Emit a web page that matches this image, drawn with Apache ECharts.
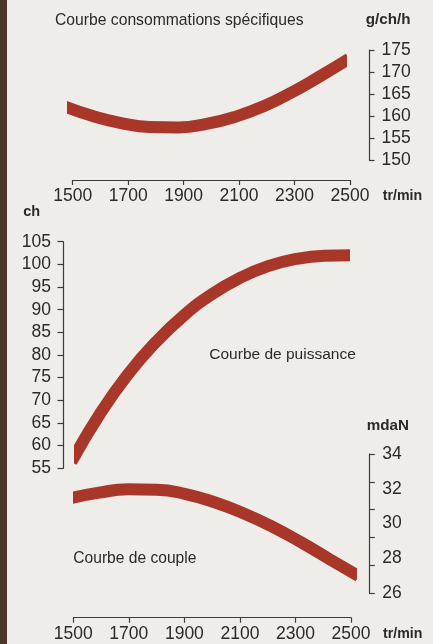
<!DOCTYPE html>
<html>
<head>
<meta charset="utf-8">
<script src="https://cdn.jsdelivr.net/npm/echarts@6/dist/echarts.min.js"></script>
<style>
  html, body { margin: 0; padding: 0; background: #eeedea; }
  #main { width: 433px; height: 644px; }
</style>
</head>
<body>
<div id="main"></div>
<script>
// régime moteur (tr/min)
var rpm = [1500, 1600, 1700, 1800, 1900, 2000, 2100, 2200, 2300, 2400, 2500];
// consommation spécifique (g/ch/h)
var consommation = [162.2, 160.0, 158.4, 157.5, 157.4, 158.2, 159.8, 162.2, 165.4, 169.1, 173.0];
// puissance (ch)
var puissance = [56.4, 66.8, 75.6, 82.8, 88.7, 93.4, 97.0, 99.6, 101.2, 101.9, 102.0];
// couple (mdaN)
var couple = [31.46, 31.78, 31.97, 31.95, 31.70, 31.23, 30.60, 29.83, 28.93, 27.95, 26.99];

var rpmTicks = [1500, 1700, 1900, 2100, 2300, 2500];
var consTicks = [150, 155, 160, 165, 170, 175];
var puisTicks = [55, 60, 65, 70, 75, 80, 85, 90, 95, 100, 105];
var coupleTicks = [26, 28, 30, 32, 34];
var coupleMarks = 5; // the printed scale has 5 tick gaps for 4 label gaps

var INK = '#2a2a2a', LINE = '#3c3c3c', RED = '#a8372a';
var FONT = 'Liberation Sans, Arial, sans-serif';
var W = 12, PAD = 3;

function last(a) { return a[a.length - 1]; }
function plain(v) { return String(v); }

// pixel frames of the printed axes
var fCons = { left: 72.7, right: 350, top: 50, bottom: 160 };
var fPuis = { left: 73.3, right: 351, top: 241.7, bottom: 468.3 };
var fCouple = { left: 73.3, right: 351, top: 454, bottom: 593.3 };

function frameGrid(f) {
  return { left: f.left, top: f.top, width: f.right - f.left, height: f.bottom - f.top,
           containLabel: false, outerBoundsMode: 'none' };
}

// hidden grid for a ribbon: same y scale as the printed axis, clipped at the band ends
function ribbon(f, ticks, xs, xe) {
  var lo = ticks[0], hi = last(ticks);
  var ppu = (f.bottom - f.top) / (hi - lo);
  var extra = (hi - lo) * 0.4;
  var k = (xe - xs + 2 * PAD) / (last(rpm) - rpm[0]);
  var cut = (PAD + W / 2) / k;
  return {
    grid: { left: xs + W / 2, top: f.top - extra * ppu, width: xe - xs - W,
            height: (hi - lo + 2 * extra) * ppu, containLabel: false, outerBoundsMode: 'none' },
    xMin: rpm[0] + cut, xMax: last(rpm) - cut, yMin: lo - extra, yMax: hi + extra
  };
}

var rCons = ribbon(fCons, consTicks, 67.3, 346);
var rPuis = ribbon(fPuis, puisTicks, 74.3, 349.3);
var rCouple = ribbon(fCouple, coupleTicks, 73.3, 355.7);

function rpmAxis(grid, offset) {
  return {
    gridIndex: grid, type: 'value', position: 'bottom', offset: offset,
    min: rpmTicks[0], max: last(rpmTicks), interval: rpmTicks[1] - rpmTicks[0],
    axisLine: { lineStyle: { color: LINE, width: 1.2 } },
    axisTick: { length: 5, lineStyle: { color: LINE, width: 1.2 } },
    axisLabel: { fontSize: 17.5, color: INK, fontFamily: FONT, margin: 7, formatter: plain,
                 showMinLabel: true, showMaxLabel: true },
    splitLine: { show: false }
  };
}

function valueAxis(grid, pos, offset, ticks, margin) {
  return {
    gridIndex: grid, type: 'value', position: pos, offset: offset,
    min: ticks[0], max: last(ticks), interval: ticks[1] - ticks[0],
    axisLine: { show: true, lineStyle: { color: LINE, width: 1.2 } },
    axisTick: { show: true, length: 5.5, lineStyle: { color: LINE, width: 1.2 } },
    axisLabel: { fontSize: 17.5, color: INK, fontFamily: FONT, margin: margin, formatter: plain,
                 showMinLabel: true, showMaxLabel: true },
    splitLine: { show: false }
  };
}

function hiddenX(grid, r) {
  return { gridIndex: grid, type: 'value', show: false, min: r ? r.xMin : rpm[0], max: r ? r.xMax : last(rpm) };
}
function hiddenY(grid, r) {
  return { gridIndex: grid, type: 'value', show: false, min: r.yMin, max: r.yMax };
}

var coupleTickAxis = valueAxis(2, 'right', 18.3, coupleTicks, 13);
coupleTickAxis.interval = (last(coupleTicks) - coupleTicks[0]) / coupleMarks;
coupleTickAxis.axisLabel = { show: false };
var coupleLabelAxis = valueAxis(2, 'right', 18.3, coupleTicks, 13);
coupleLabelAxis.axisLine = { show: false };
coupleLabelAxis.axisTick = { show: false };

function band(name, xi, yi, data) {
  return {
    name: name, type: 'line', xAxisIndex: xi, yAxisIndex: yi,
    data: rpm.map(function (r, i) { return [r, data[i]]; }),
    smooth: 0.5, symbol: 'none', clip: true,
    lineStyle: { color: RED, width: W, cap: 'butt' }
  };
}

function label(x, y, text, size, bold) {
  return { type: 'text', left: x, top: y - size / 2,
           style: { text: text, fill: INK, fontSize: size, fontFamily: FONT,
                    fontWeight: bold ? 'bold' : 'normal' } };
}

var chart = echarts.init(document.getElementById('main'), null, { renderer: 'canvas' });
chart.setOption({
  animation: false,
  backgroundColor: '#eeedea',
  grid: [
    frameGrid(fCons), frameGrid(fPuis), frameGrid(fCouple),
    rCons.grid, rPuis.grid, rCouple.grid
  ],
  xAxis: [
    rpmAxis(0, 20),
    rpmAxis(1, fCouple.bottom + 24.4 - fPuis.bottom),
    hiddenX(2),
    hiddenX(3, rCons), hiddenX(4, rPuis), hiddenX(5, rCouple)
  ],
  yAxis: [
    valueAxis(0, 'right', 19, consTicks, 12.5),
    valueAxis(1, 'left', 10.3, puisTicks, 12),
    coupleTickAxis,
    coupleLabelAxis,
    hiddenY(3, rCons), hiddenY(4, rPuis), hiddenY(5, rCouple)
  ],
  series: [
    band('Consommation', 3, 4, consommation),
    band('Puissance', 4, 5, puissance),
    band('Couple', 5, 6, couple)
  ],
  graphic: [
    { type: 'rect', left: 0, top: 0, shape: { width: 7, height: 644 },
      style: { fill: '#4a392b' } },
    label(55, 21, 'Courbe consommations spécifiques', 15.7, false),
    label(365.7, 19.5, 'g/ch/h', 15.2, true),
    label(382.7, 196.5, 'tr/min', 14.2, true),
    label(23.3, 211.5, 'ch', 14.5, true),
    label(209.3, 354, 'Courbe de puissance', 15.5, false),
    label(366.7, 425.5, 'mdaN', 15.2, true),
    label(73.3, 558.7, 'Courbe de couple', 15.6, false),
    label(383, 634, 'tr/min', 14.2, true)
  ]
});
</script>
</body>
</html>
